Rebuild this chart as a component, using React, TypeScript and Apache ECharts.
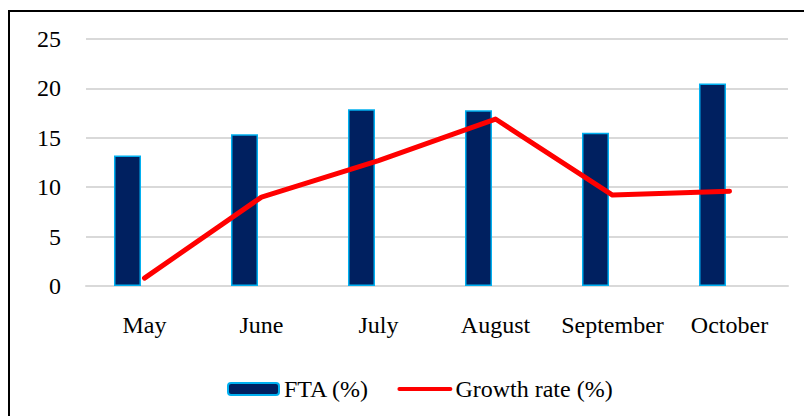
import React, { useEffect, useRef } from "react";
import * as echarts from "echarts";

const categories = ["May", "June", "July", "August", "September", "October"];
const ftaValues = [13.2, 15.35, 17.9, 17.8, 15.5, 20.5];
const growthValues = [0.8, 9.0, 12.7, 16.9, 9.2, 9.6];
const emptyValues = [null, null, null, null, null, null];

const FONT = "'Liberation Serif', 'Times New Roman', serif";
const FS = 24;

export default function App() {
  const ref = useRef<HTMLDivElement>(null);
  useEffect(() => {
    const chart = echarts.init(ref.current!, null, { renderer: "svg" });
    chart.setOption({
      animation: false,
      backgroundColor: "#ffffff",
      textStyle: { fontFamily: FONT },
      graphic: [
        {
          type: "rect",
          shape: { x: 9, y: 11, width: 900, height: 600 },
          style: { fill: "none", stroke: "#000000", lineWidth: 2 },
          silent: true,
        },
      ],
      grid: { left: 86, right: 16, top: 39, bottom: 130 },
      legend: {
        data: [
          { name: "FTA (%)" },
          { name: "Growth rate (%)", itemStyle: { opacity: 0 }, lineStyle: { width: 4 } },
        ],
        left: 222,
        top: 372,
        itemWidth: 51,
        itemHeight: 12,
        itemGap: 28,
        textStyle: { fontFamily: FONT, fontSize: FS, color: "#000", padding: [0, 0, 0, 0] },
      },
      xAxis: {
        type: "category",
        data: categories,
        axisLine: { show: true, lineStyle: { color: "#d9d9d9", width: 2 } },
        axisTick: { show: false },
        axisLabel: { fontFamily: FONT, fontSize: FS, color: "#000", margin: 27, interval: 0 },
      },
      yAxis: {
        type: "value",
        min: 0,
        max: 25,
        interval: 5,
        axisLine: { show: false },
        axisTick: { show: false },
        splitLine: { lineStyle: { color: "#d9d9d9", width: 2 } },
        axisLabel: { fontFamily: FONT, fontSize: FS, color: "#000", margin: 25 },
      },
      series: [
        {
          name: "FTA (%)",
          type: "bar",
          data: ftaValues,
          barWidth: 27,
          barGap: "26%",
          itemStyle: { color: "#002060", borderColor: "#00b0f0", borderWidth: 1.5 },
        },
        {
          name: "_blank",
          type: "bar",
          data: emptyValues,
          barWidth: 27,
          barGap: "26%",
        },
        {
          name: "Growth rate (%)",
          type: "line",
          data: growthValues,
          symbol: "none",
          lineStyle: { color: "#ff0000", width: 5, cap: "round", join: "round" },
          itemStyle: { color: "#ff0000" },
        },
      ],
    });
    return () => chart.dispose();
  }, []);
  return (
    <div
      ref={ref}
      style={{ position: "fixed", left: 0, top: 0, width: 804, height: 416 }}
    />
  );
}
